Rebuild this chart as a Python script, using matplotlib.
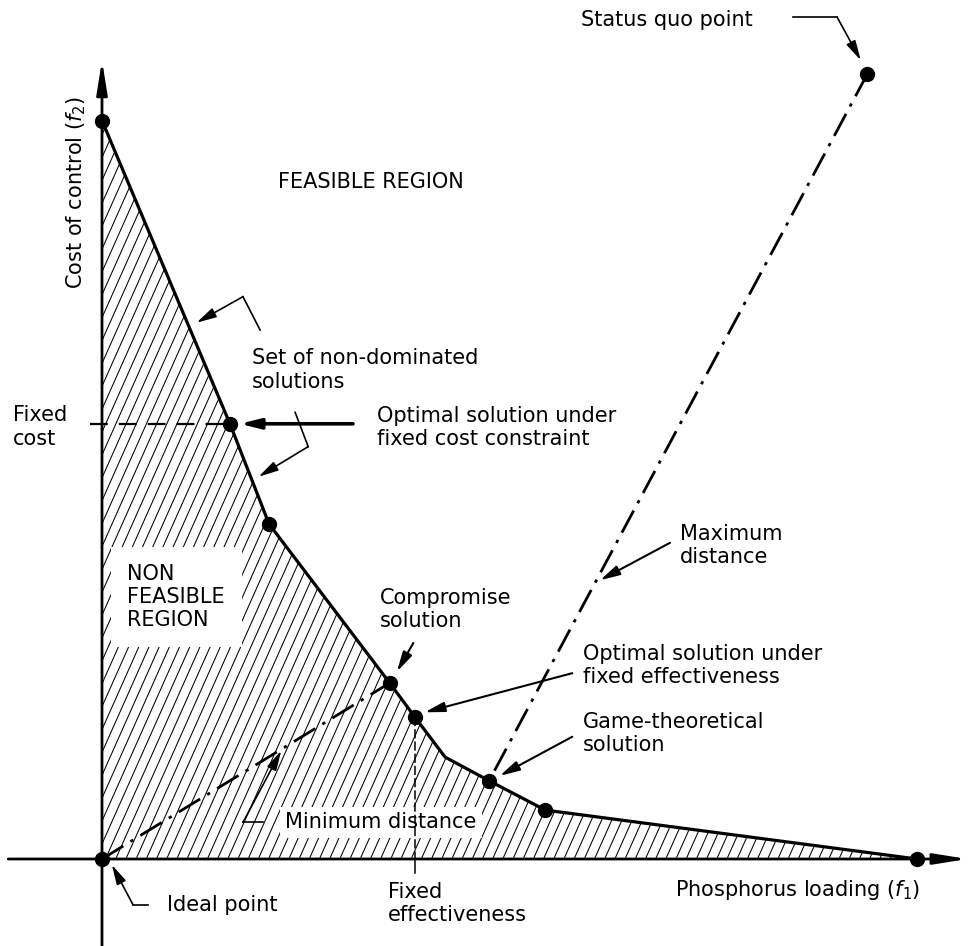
import numpy as np
import matplotlib.pyplot as plt
from matplotlib.collections import LineCollection
from matplotlib.patches import Polygon

plt.rcParams['font.family'] = 'DejaVu Sans'
plt.rcParams['mathtext.fontset'] = 'dejavusans'

# Non-dominated set: phosphorus loading (f1) vs cost of control (f2)
front_f1 = [0.00, 1.57, 2.05, 3.53, 3.84, 4.21, 4.75, 5.44, 10.00]
front_f2 = [9.06, 5.34, 4.11, 2.16, 1.74, 1.25, 0.96, 0.60, 0.00]
marked = [0, 1, 2, 3, 4, 6, 7, 8]   # solutions drawn as dots

i_cost = 1      # optimal under fixed cost constraint
i_comp = 3      # compromise solution
i_eff = 4       # optimal under fixed effectiveness
i_game = 6      # game-theoretical solution

ideal = (0.0, 0.0)
status_quo = (9.39, 9.63)

fs = 15
ls2 = 1.2   # line spacing of two-line labels

fig = plt.figure(figsize=(9.75, 9.46), dpi=100)
ax = fig.add_axes([0, 0, 1, 1])
ax.set_xlim(-1.2515, 10.712)
ax.set_ylim(-1.0675, 10.54)
ax.axis('off')

# hatched non feasible region
verts = np.column_stack([front_f1 + [ideal[0]], front_f2 + [ideal[1]]])
region = Polygon(verts, closed=True, fc='none', ec='none')
ax.add_patch(region)
ang = np.deg2rad(66)
segs = [[(x, -1.5), (x + 12.5 / np.tan(ang), 11)] for x in np.arange(-7, 11, 0.125)]
hatch = LineCollection(segs, colors='k', linewidths=0.75, zorder=1)
hatch.set_clip_path(region)
ax.add_collection(hatch)

# axes with arrow heads
axis_arrow = dict(arrowstyle='-|>,head_length=1.0,head_width=0.16', lw=2, color='k',
                  mutation_scale=20, shrinkA=0, shrinkB=0)
ax.annotate('', xy=(10.62, 0), xytext=(-1.15, 0), arrowprops=axis_arrow, zorder=3)
ax.annotate('', xy=(0, 9.80), xytext=(0, -1.1), arrowprops=axis_arrow, zorder=3)

# front
ax.plot(front_f1, front_f2, color='k', lw=2.3, zorder=4, solid_joinstyle='round')
ax.plot([front_f1[i] for i in marked], [front_f2[i] for i in marked], 'o',
        color='k', ms=10, zorder=6)
ax.plot(*ideal, 'o', color='k', ms=10, zorder=6)
ax.plot(*status_quo, 'o', color='k', ms=10, zorder=6)

# fixed cost and fixed effectiveness constraints
ax.plot([-0.15, front_f1[i_cost]], [front_f2[i_cost]] * 2, color='k', lw=1.6,
        ls=(0, (8, 5)), zorder=3)
ax.plot([front_f1[i_eff]] * 2, [front_f2[i_eff], 0], color='k', lw=1.1,
        ls=(0, (6, 2)), zorder=3)
ax.plot([front_f1[i_eff]] * 2, [0, -0.17], color='k', lw=1.1, zorder=3)

# minimum and maximum distance
dashdot = (0, (9, 3, 1.2, 3))
ax.plot([ideal[0], front_f1[i_comp]], [ideal[1], front_f2[i_comp]], color='k', lw=2,
        ls=dashdot, zorder=3)
ax.plot([status_quo[0], front_f1[i_game]], [status_quo[1], front_f2[i_game]], color='k',
        lw=2, ls=dashdot, zorder=3)


def arrow(tip, tail, lw=1.5, ms=15):
    ax.annotate('', xy=tip, xytext=tail,
                arrowprops=dict(arrowstyle='-|>,head_length=0.8,head_width=0.2', lw=lw,
                                color='k', shrinkA=0, shrinkB=0, mutation_scale=ms),
                zorder=7)


def leader(path, lw=1.2):
    xs, ys = zip(*path[:-1])
    ax.plot(xs, ys, color='k', lw=lw, zorder=7, solid_joinstyle='miter')
    arrow(path[-1], path[-2], lw=lw)


# labels
ax.text(7.99, 10.29, 'Status quo point', fontsize=fs, ha='right', va='center')
leader([(8.48, 10.33), (9.02, 10.33), (9.31, 9.80)])

ax.text(2.16, 8.31, 'FEASIBLE REGION', fontsize=fs, ha='left', va='center')

ax.text(-0.24, 8.18, 'Cost of control ($f_2$)', fontsize=fs, rotation=90,
        rotation_mode='anchor', ha='center', va='baseline')

ax.text(1.84, 6.0, 'Set of non-dominated\nsolutions', fontsize=fs, ha='left',
        va='center', linespacing=ls2)
leader([(1.94, 6.49), (1.73, 6.90), (1.16, 6.58)])
leader([(2.37, 5.48), (2.53, 5.06), (1.92, 4.69)])

ax.text(-1.09, 5.30, 'Fixed\ncost', fontsize=fs, ha='left', va='center', linespacing=ls2)

ax.text(3.37, 5.29, 'Optimal solution under\nfixed cost constraint', fontsize=fs,
        ha='left', va='center', linespacing=ls2)
arrow((front_f1[i_cost] + 0.12, front_f2[i_cost]), (3.08, front_f2[i_cost]), lw=2.6, ms=15)

ax.text(0.31, 3.215, 'NON\nFEASIBLE\nREGION', fontsize=fs, ha='left', va='center',
        linespacing=ls2, zorder=2,
        bbox=dict(boxstyle='square,pad=0.8', fc='white', ec='none'))

ax.text(3.41, 3.06, 'Compromise\nsolution', fontsize=fs, ha='left', va='center',
        linespacing=ls2)
arrow((3.62, 2.30), (3.82, 2.65))

ax.text(7.09, 3.85, 'Maximum\ndistance', fontsize=fs, ha='left', va='center',
        linespacing=ls2)
arrow((6.11, 3.42), (6.97, 3.88))

ax.text(5.90, 2.37, 'Optimal solution under\nfixed effectiveness', fontsize=fs,
        ha='left', va='center', linespacing=ls2)
arrow((3.96, 1.80), (5.77, 2.28))

ax.text(5.90, 1.54, 'Game-theoretical\nsolution', fontsize=fs, ha='left', va='center',
        linespacing=ls2)
arrow((4.88, 1.02), (5.77, 1.50))

ax.text(2.25, 0.45, 'Minimum distance', fontsize=fs, ha='left', va='center', zorder=2,
        bbox=dict(boxstyle='square,pad=0.25', fc='white', ec='none'))
leader([(1.98, 0.45), (1.73, 0.45), (2.20, 1.33)])

ax.text(0.80, -0.56, 'Ideal point', fontsize=fs, ha='left', va='center')
leader([(0.56, -0.56), (0.38, -0.56), (0.12, -0.07)])

ax.text(3.51, -0.545, 'Fixed\neffectiveness', fontsize=fs, ha='left', va='center',
        linespacing=ls2)

ax.text(7.03, -0.38, 'Phosphorus loading ($f_1$)', fontsize=fs, ha='left', va='center')

fig.savefig('out.png', dpi=100, facecolor='white')
